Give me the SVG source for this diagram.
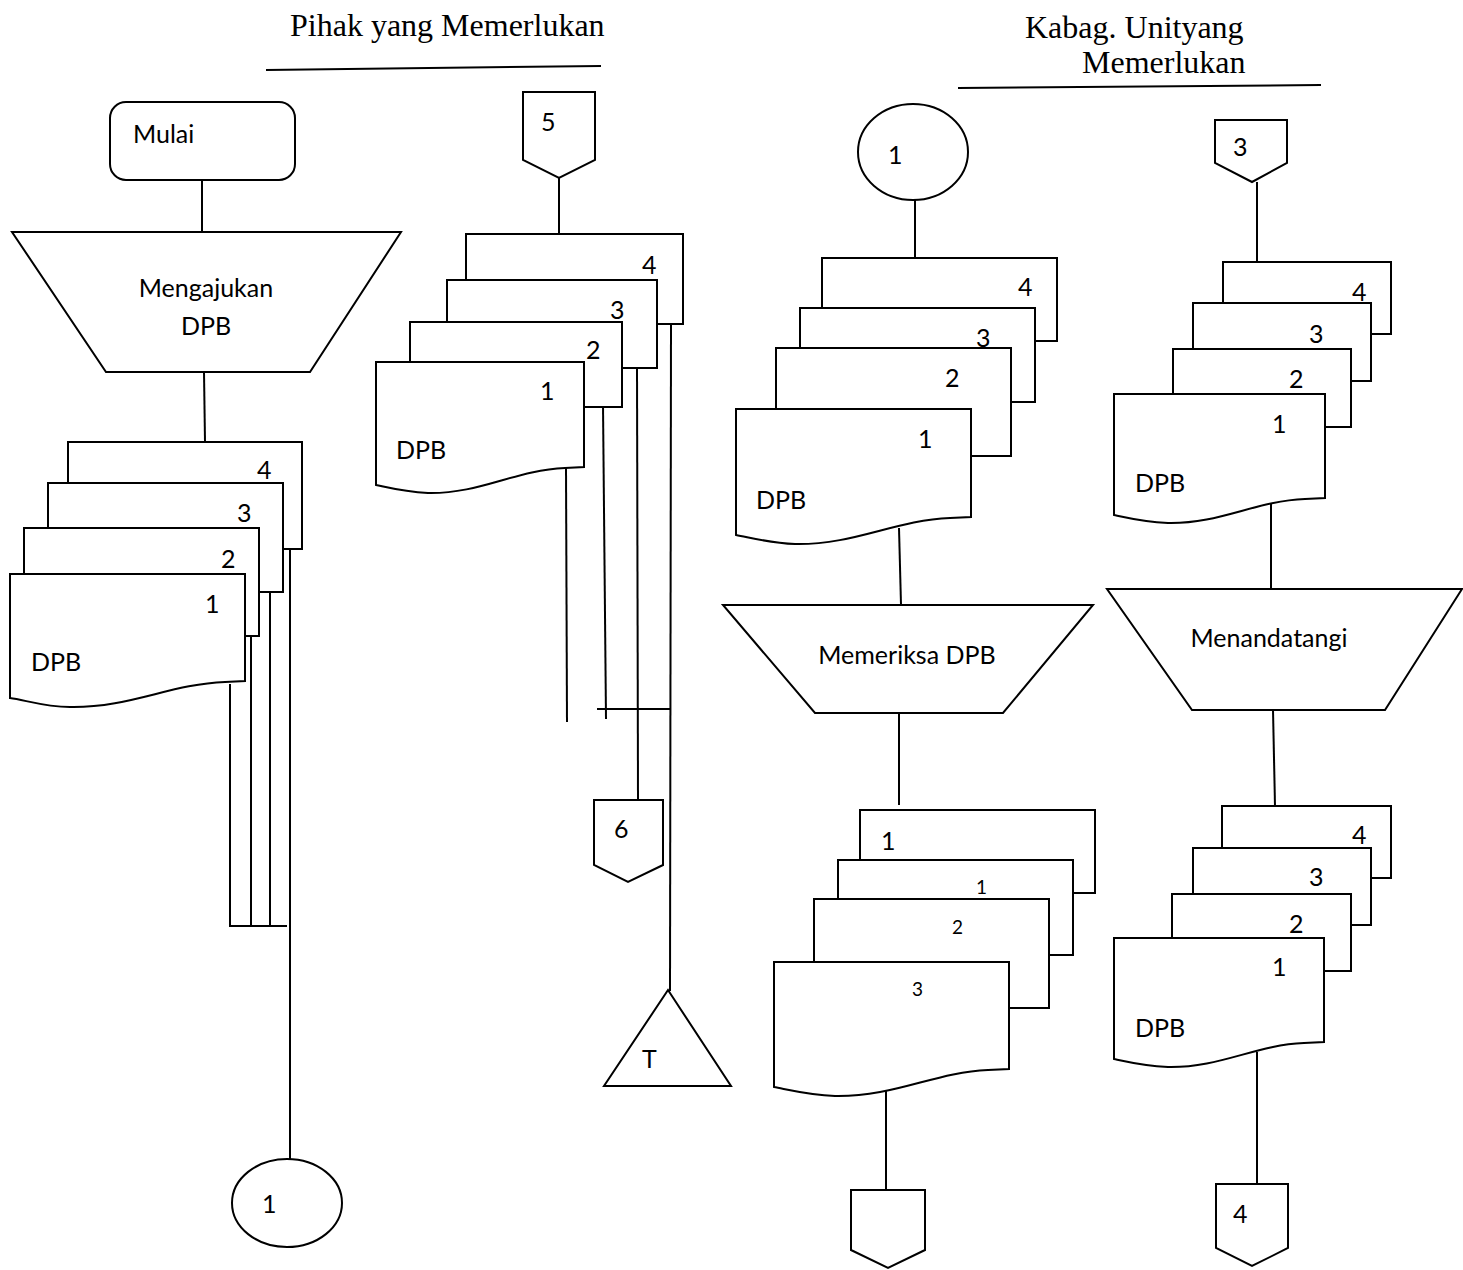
<svg xmlns="http://www.w3.org/2000/svg" width="1463" height="1270" viewBox="0 0 1463 1270">
  <style>
    .shape { fill: #fff; stroke: #000; stroke-width: 2; stroke-linejoin: miter; }
    .conn line, .conn polyline { stroke: #000; stroke-width: 2; fill: none; }
    .head { font-family: "Liberation Serif", "Times New Roman", serif; font-size: 32px; fill: #000; }
    .lbl { font-family: Lato, "Open Sans", "Liberation Sans", sans-serif; font-size: 25px; fill: #000; }
    .sm { font-size: 19px; }
    .mid { text-anchor: middle; }
  </style>

  <!-- lane headings -->
  <g id="heading-pihak">
    <text class="head" x="290" y="36">Pihak yang Memerlukan</text>
    <line x1="266" y1="70" x2="601" y2="66" stroke="#000" stroke-width="2"/>
  </g>
  <g id="heading-kabag">
    <text class="head" x="1025" y="38">Kabag. Unityang</text>
    <text class="head" x="1082" y="73">Memerlukan</text>
    <line x1="958" y1="88" x2="1321" y2="85" stroke="#000" stroke-width="2"/>
  </g>

  <!-- connectors -->
  <g id="connectors" class="conn">
    <line x1="202" y1="180" x2="202" y2="232"/>
    <line x1="204" y1="372" x2="205" y2="442"/>
    <line x1="230" y1="684" x2="230" y2="926"/>
    <line x1="251" y1="636" x2="251" y2="926"/>
    <line x1="270" y1="592" x2="270" y2="926"/>
    <line x1="229" y1="926" x2="287" y2="926"/>
    <line x1="290" y1="549" x2="290" y2="1159"/>

    <line x1="559" y1="178" x2="559" y2="234"/>
    <line x1="566" y1="467" x2="567" y2="722"/>
    <line x1="603" y1="405" x2="606" y2="719"/>
    <line x1="637" y1="368" x2="638" y2="800"/>
    <line x1="671" y1="324" x2="670" y2="991"/>
    <line x1="597" y1="709" x2="670" y2="709"/>

    <line x1="915" y1="200" x2="915" y2="258"/>
    <line x1="899" y1="528" x2="901" y2="605"/>
    <line x1="899" y1="713" x2="899" y2="805"/>
    <line x1="886" y1="1090" x2="886" y2="1190"/>

    <line x1="1257" y1="182" x2="1257" y2="262"/>
    <line x1="1271" y1="503" x2="1271" y2="589"/>
    <line x1="1273" y1="710" x2="1275" y2="806"/>
    <line x1="1257" y1="1052" x2="1257" y2="1185"/>
  </g>

  <!-- start terminator -->
  <g id="mulai">
    <rect class="shape" x="110" y="102" width="185" height="78" rx="16"/>
    <text class="lbl" x="133" y="143">Mulai</text>
  </g>

  <!-- manual operation: submit DPB -->
  <g id="mengajukan">
    <polygon class="shape" points="12,232 401,232 310,372 106,372"/>
    <text class="lbl mid" x="206" y="297">Mengajukan</text>
    <text class="lbl mid" x="206" y="335">DPB</text>
  </g>

  <!-- DPB copies 1-4 (left) -->
  <g id="dpb-left">
    <rect class="shape" x="68" y="442" width="234" height="107"/>
    <text class="lbl" x="257" y="479">4</text>
    <rect class="shape" x="48" y="483" width="235" height="109"/>
    <text class="lbl" x="237" y="522">3</text>
    <rect class="shape" x="24" y="528" width="235" height="108"/>
    <text class="lbl" x="221" y="568">2</text>
    <path class="shape" d="M10,574 H245 V681 L225,682 C170,684 130,708 70,707 C45,707 25,700 10,698 Z"/>
    <text class="lbl" x="205" y="613">1</text>
    <text class="lbl" x="31" y="671">DPB</text>
  </g>

  <!-- on-page connector 1 (left) -->
  <g id="conn-1-out">
    <ellipse class="shape" cx="287" cy="1203" rx="55" ry="44"/>
    <text class="lbl" x="262" y="1213">1</text>
  </g>

  <!-- off-page connector 5 -->
  <g id="offpage-5">
    <polygon class="shape" points="523,92 595,92 595,160 559,178 523,160"/>
    <text class="lbl" x="541" y="131">5</text>
  </g>

  <!-- DPB copies 1-4 (returned) -->
  <g id="dpb-returned">
    <rect class="shape" x="466" y="234" width="217" height="90"/>
    <text class="lbl" x="642" y="274">4</text>
    <rect class="shape" x="447" y="280" width="210" height="88"/>
    <text class="lbl" x="610" y="319">3</text>
    <rect class="shape" x="410" y="322" width="212" height="85"/>
    <text class="lbl" x="586" y="359">2</text>
    <path class="shape" d="M376,362 H584 V467 L565,468 C515,470 480,494 428,493 C405,492 390,488 376,485 Z"/>
    <text class="lbl" x="540" y="400">1</text>
    <text class="lbl" x="396" y="459">DPB</text>
  </g>

  <!-- off-page connector 6 -->
  <g id="offpage-6">
    <polygon class="shape" points="594,800 663,800 663,865 628,882 594,865"/>
    <text class="lbl" x="614" y="838">6</text>
  </g>

  <!-- file (T) -->
  <g id="arsip-t">
    <polygon class="shape" points="668,990 731,1086 604,1086"/>
    <text class="lbl" x="642" y="1068">T</text>
  </g>

  <!-- on-page connector 1 (in) -->
  <g id="conn-1-in">
    <ellipse class="shape" cx="913" cy="152" rx="55" ry="48"/>
    <text class="lbl" x="888" y="164">1</text>
  </g>

  <!-- DPB copies 1-4 (checked) -->
  <g id="dpb-check">
    <rect class="shape" x="822" y="258" width="235" height="83"/>
    <text class="lbl" x="1018" y="296">4</text>
    <rect class="shape" x="800" y="308" width="235" height="94"/>
    <text class="lbl" x="976" y="347">3</text>
    <rect class="shape" x="776" y="348" width="235" height="108"/>
    <text class="lbl" x="945" y="387">2</text>
    <path class="shape" d="M736,409 H971 V517 L950,518 C895,520 855,545 795,544 C770,543 752,538 736,535 Z"/>
    <text class="lbl" x="918" y="448">1</text>
    <text class="lbl" x="756" y="509">DPB</text>
  </g>

  <!-- manual operation: check DPB -->
  <g id="memeriksa">
    <polygon class="shape" points="723,605 1093,605 1003,713 815,713"/>
    <text class="lbl mid" x="907" y="664">Memeriksa DPB</text>
  </g>

  <!-- DPB copies after checking -->
  <g id="dpb-checked">
    <rect class="shape" x="860" y="810" width="235" height="83"/>
    <text class="lbl" x="881" y="850">1</text>
    <rect class="shape" x="838" y="860" width="235" height="95"/>
    <text class="lbl sm" x="976" y="894">1</text>
    <rect class="shape" x="814" y="899" width="235" height="109"/>
    <text class="lbl sm" x="952" y="934">2</text>
    <path class="shape" d="M774,962 H1009 V1069 L988,1070 C935,1072 895,1097 835,1096 C810,1095 790,1090 774,1087 Z"/>
    <text class="lbl sm" x="912" y="996">3</text>
  </g>

  <!-- off-page connector (blank) -->
  <g id="offpage-blank">
    <polygon class="shape" points="851,1190 925,1190 925,1250 888,1268 851,1250"/>
  </g>

  <!-- off-page connector 3 -->
  <g id="offpage-3">
    <polygon class="shape" points="1215,120 1287,120 1287,163 1252,182 1215,163"/>
    <text class="lbl" x="1233" y="156">3</text>
  </g>

  <!-- DPB copies 1-4 (to sign) -->
  <g id="dpb-sign">
    <rect class="shape" x="1223" y="262" width="168" height="72"/>
    <text class="lbl" x="1352" y="301">4</text>
    <rect class="shape" x="1193" y="303" width="178" height="78"/>
    <text class="lbl" x="1309" y="343">3</text>
    <rect class="shape" x="1173" y="349" width="178" height="78"/>
    <text class="lbl" x="1289" y="388">2</text>
    <path class="shape" d="M1114,394 H1325 V498 L1305,499 C1255,501 1220,524 1168,523 C1145,522 1128,518 1114,515 Z"/>
    <text class="lbl" x="1272" y="433">1</text>
    <text class="lbl" x="1135" y="492">DPB</text>
  </g>

  <!-- manual operation: sign -->
  <g id="menandatangi">
    <polygon class="shape" points="1107,589 1462,589 1385,710 1192,710"/>
    <text class="lbl mid" x="1269" y="647">Menandatangi</text>
  </g>

  <!-- DPB copies 1-4 (signed) -->
  <g id="dpb-signed">
    <rect class="shape" x="1222" y="806" width="169" height="72"/>
    <text class="lbl" x="1352" y="844">4</text>
    <rect class="shape" x="1193" y="848" width="178" height="77"/>
    <text class="lbl" x="1309" y="886">3</text>
    <rect class="shape" x="1172" y="894" width="179" height="77"/>
    <text class="lbl" x="1289" y="933">2</text>
    <path class="shape" d="M1114,938 H1324 V1042 L1304,1043 C1255,1045 1220,1068 1168,1067 C1145,1066 1128,1062 1114,1059 Z"/>
    <text class="lbl" x="1272" y="976">1</text>
    <text class="lbl" x="1135" y="1037">DPB</text>
  </g>

  <!-- off-page connector 4 -->
  <g id="offpage-4">
    <polygon class="shape" points="1216,1184 1288,1184 1288,1248 1252,1266 1216,1248"/>
    <text class="lbl" x="1233" y="1223">4</text>
  </g>
</svg>
